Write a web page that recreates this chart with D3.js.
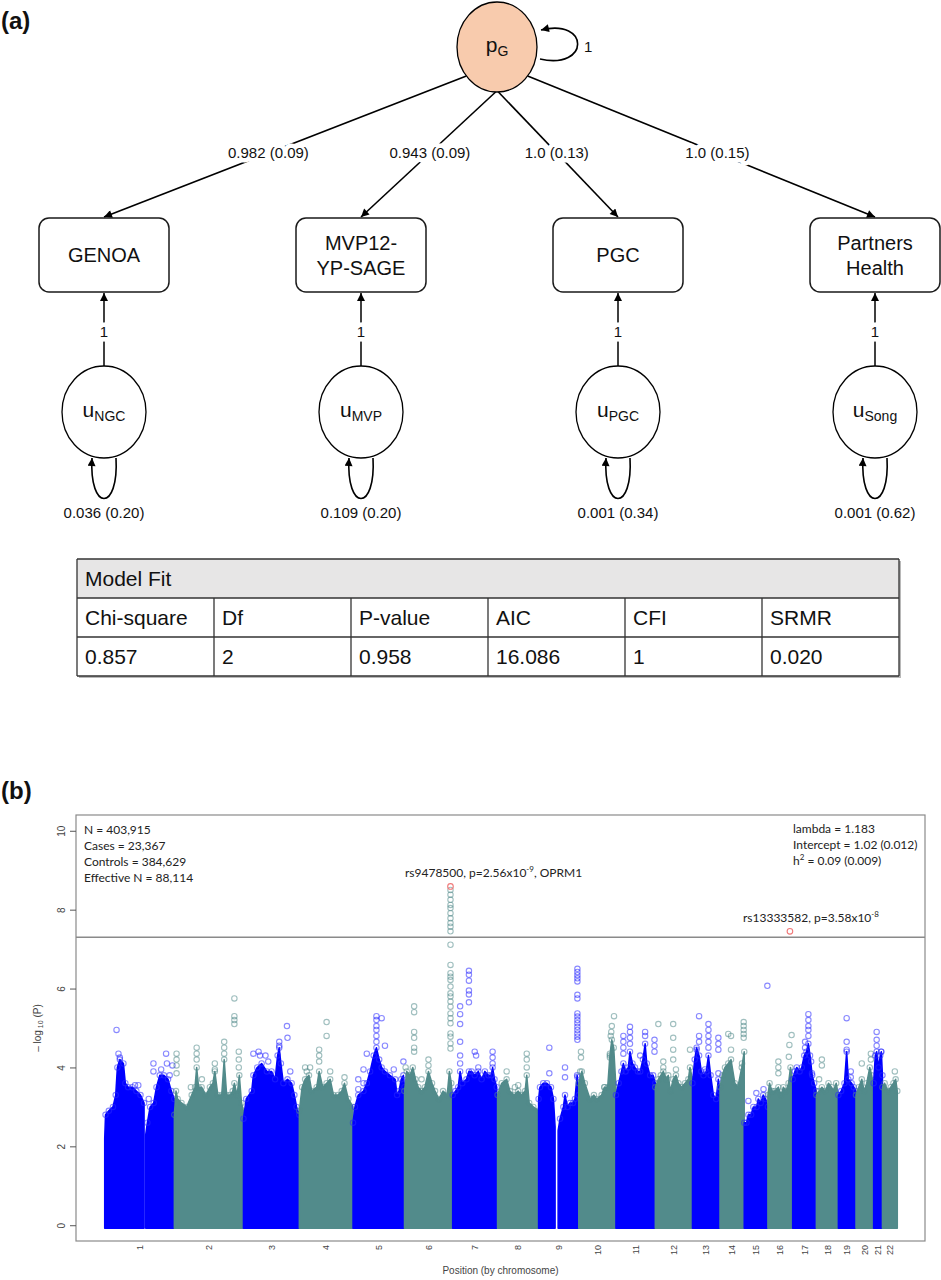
<!DOCTYPE html>
<html>
<head>
<meta charset="utf-8">
<script src="https://cdn.jsdelivr.net/npm/d3@7"></script>
<style>
  body { margin: 0; background: #fff; }
  svg text { font-family: "Liberation Sans", Arial, sans-serif; fill: #111; }
  svg text.cal { font-family: Lato, "Open Sans", sans-serif; fill: #222; }
  .halo { paint-order: stroke; stroke: #fff; stroke-width: 9px; stroke-linejoin: round; }
</style>
</head>
<body>
<svg id="figure" width="941" height="1280"></svg>
<script>
///////////////////////////////////////////////////////////
// Data (a): genomic SEM path model

const cohorts = ["GENOA", "MVP12-YP-SAGE", "PGC", "Partners Health"];
const cohortLines = [["GENOA"], ["MVP12-", "YP-SAGE"], ["PGC"], ["Partners", "Health"]];
const loadingLabels = ["0.982 (0.09)", "0.943 (0.09)", "1.0 (0.13)", "1.0 (0.15)"];
const residualNames = ["NGC", "MVP", "PGC", "Song"];
const residualLabels = ["0.036 (0.20)", "0.109 (0.20)", "0.001 (0.34)", "0.001 (0.62)"];
const fitHeaders = ["Chi-square", "Df", "P-value", "AIC", "CFI", "SRMR"];
const fitValues = ["0.857", "2", "0.958", "16.086", "1", "0.020"];

///////////////////////////////////////////////////////////
// Data (b): Manhattan plot

const chromosomes = ["1", "2", "3", "4", "5", "6", "7", "8", "9", "10", "11",
  "12", "13", "14", "15", "16", "17", "18", "19", "20", "21", "22"];
// span covered by SNPs, Mb
const chrLengthMb = [253, 251, 203, 195, 187, 175, 163, 149, 146, 135, 143,
  135, 100, 88, 86, 90, 86, 80, 64, 64, 32, 54];

// top of the dense SNP mass: [chr, position Mb, -log10 P] (null = gap)
const massProfile = [
  [1,0,2.2],[1,3,2.8],[1,15,2.9],[1,30,3.0],[1,40,3.3],[1,46,4.0],[1,55,4.2],[1,68,4.1],[1,75,3.6],[1,85,3.5],[1,100,3.5],[1,115,3.4],[1,130,3.3],[1,143,3.1],
  [1,146,null],
  [1,149,2.3],[1,155,2.6],[1,165,3.0],[1,178,3.1],[1,188,3.5],[1,200,3.8],[1,215,3.8],[1,230,3.7],[1,242,3.4],[1,253,3.2],
  [2,0,2.8],[2,6,3.4],[2,12,3.2],[2,26,3.1],[2,45,3.0],[2,63,3.3],[2,75,3.5],[2,81,4.0],[2,88,3.5],[2,99,3.5],[2,115,3.3],[2,129,3.5],[2,140,3.6],[2,147,3.9],[2,158,3.3],[2,172,3.3],[2,181,4.2],[2,190,3.3],[2,202,3.3],[2,212,3.4],[2,218,3.6],[2,228,3.3],[2,236,3.8],[2,244,3.1],[2,251,2.9],
  [3,0,2.7],[3,10,3.2],[3,30,3.4],[3,36,3.8],[3,50,4.0],[3,66,4.1],[3,85,3.9],[3,102,3.9],[3,115,3.7],[3,124,4.3],[3,130,4.5],[3,136,4.1],[3,145,3.6],[3,160,3.7],[3,175,3.6],[3,185,3.3],[3,193,3.0],[3,203,2.8],
  [4,0,2.9],[4,10,3.5],[4,21,3.7],[4,35,3.8],[4,45,3.4],[4,63,3.5],[4,72,3.9],[4,85,3.5],[4,99,3.6],[4,112,3.7],[4,124,3.3],[4,140,3.3],[4,154,3.4],[4,164,3.6],[4,178,3.2],[4,195,3.0],
  [5,0,2.6],[5,7,3.0],[5,19,3.3],[5,38,3.4],[5,50,3.6],[5,62,3.9],[5,75,4.3],[5,85,4.5],[5,95,4.2],[5,104,4.0],[5,116,3.9],[5,134,3.8],[5,153,3.7],[5,160,3.3],[5,167,3.4],[5,175,3.7],[5,183,3.8],[5,187,3.5],
  [6,0,3.4],[6,8,3.9],[6,20,3.8],[6,30,4.0],[6,40,3.7],[6,50,3.5],[6,62,3.4],[6,74,3.5],[6,87,3.9],[6,100,3.6],[6,111,3.4],[6,125,3.2],[6,140,3.4],[6,155,3.3],[6,163,3.9],[6,170,3.6],[6,175,3.2],
  [7,0,3.3],[7,10,3.4],[7,20,3.5],[7,27,3.9],[7,35,3.6],[7,50,3.7],[7,59,3.9],[7,69,3.9],[7,80,3.8],[7,93,3.9],[7,105,3.7],[7,117,3.9],[7,130,3.8],[7,140,3.8],[7,145,4.0],[7,152,3.7],[7,160,3.5],
  [8,0,3.3],[8,15,3.6],[8,33,3.7],[8,45,3.4],[8,60,3.3],[8,75,3.4],[8,87,3.3],[8,100,3.4],[8,106,3.8],[8,115,3.1],[8,130,3.0],[8,149,2.9],
  [9,0,3.2],[9,5,3.5],[9,17,3.6],[9,30,3.6],[9,45,3.5],[9,54,3.2],[9,60,2.5],[9,62,null],[9,71,2.4],[9,78,2.7],[9,90,3.0],[9,96,3.3],[9,105,3.0],[9,114,3.1],[9,125,3.1],[9,132,3.2],[9,140,3.8],[9,146,3.3],
  [10,0,3.6],[10,11,3.9],[10,22,3.6],[10,41,3.2],[10,55,3.3],[10,65,3.2],[10,83,3.3],[10,93,3.5],[10,105,3.5],[10,113,4.3],[10,120,4.7],[10,127,4.5],[10,135,3.5],
  [11,0,3.3],[11,10,3.6],[11,20,3.9],[11,27,4.1],[11,35,3.9],[11,45,4.0],[11,51,4.4],[11,60,4.1],[11,69,4.0],[11,80,3.9],[11,88,3.9],[11,98,4.2],[11,106,4.6],[11,112,4.1],[11,124,3.8],[11,135,3.8],[11,143,3.6],
  [12,0,3.5],[12,11,3.7],[12,20,3.8],[12,29,3.9],[12,40,3.7],[12,47,3.8],[12,55,3.4],[12,65,3.7],[12,75,3.8],[12,84,3.6],[12,95,3.5],[12,108,3.6],[12,120,3.7],[12,126,4.0],[12,135,3.7],
  [13,0,3.6],[13,8,4.2],[13,15,4.5],[13,24,4.3],[13,32,3.9],[13,40,3.8],[13,50,3.9],[13,58,4.3],[13,66,3.8],[13,76,3.3],[13,86,3.2],[13,94,3.7],[13,100,3.4],
  [14,0,3.5],[14,8,3.8],[14,18,4.0],[14,30,4.1],[14,40,4.2],[14,54,3.6],[14,65,3.5],[14,79,4.0],[14,88,4.4],
  [15,0,2.6],[15,8,2.6],[15,15,2.8],[15,25,2.8],[15,33,3.0],[15,45,3.0],[15,51,3.2],[15,60,3.1],[15,69,3.3],[15,78,3.2],[15,86,3.0],
  [16,0,3.3],[16,6,3.6],[16,15,3.4],[16,25,3.4],[16,38,3.5],[16,48,3.3],[16,56,3.5],[16,66,3.4],[16,75,3.6],[16,82,4.0],[16,90,3.7],
  [17,0,3.7],[17,8,3.9],[17,15,4.0],[17,25,3.9],[17,33,4.0],[17,42,4.3],[17,50,4.4],[17,57,4.6],[17,63,4.3],[17,71,3.8],[17,78,3.6],[17,86,3.4],
  [18,0,3.3],[18,10,3.4],[18,20,3.5],[18,32,3.4],[18,44,3.6],[18,55,3.5],[18,62,3.4],[18,72,3.6],[18,80,3.3],
  [19,0,3.3],[19,10,3.4],[19,22,3.6],[19,30,4.4],[19,36,3.7],[19,48,3.6],[19,56,3.5],[19,64,3.4],
  [20,0,3.3],[20,10,3.5],[20,21,3.7],[20,30,3.4],[20,39,3.6],[20,50,4.0],[20,57,3.8],[20,64,3.5],
  [21,0,3.6],[21,6,4.3],[21,11,4.4],[21,18,4.0],[21,24,4.3],[21,28,4.4],[21,32,3.8],
  [22,0,3.5],[22,8,3.6],[22,20,3.4],[22,30,3.5],[22,40,3.6],[22,48,3.7],[22,54,3.4]
];

// isolated SNPs above the mass: [chr, position Mb, -log10 P]
const peakSnps = [
  [1,43,4.95],[1,50,4.35],[1,55,4.25],[1,110,3.55],[1,122,3.55],[1,160,3.2],[1,177,4.1],[1,177,3.9],[1,205,3.95],[1,223,4.35],[1,226,4.1],[1,246,4.05],[1,236,3.8],
  [2,8,4.35],[2,8,4.2],[2,8,4.05],[2,8,3.85],[2,81,4.5],[2,81,4.35],[2,81,4.2],[2,147,4.1],[2,147,3.95],[2,181,4.65],[2,181,4.5],[2,181,4.35],[2,218,5.75],[2,218,5.3],[2,218,5.2],[2,218,5.1],[2,234,4.4],[2,234,4.2],[2,234,4.0],[2,60,3.5],[2,100,3.7],
  [3,36,4.35],[3,55,4.4],[3,60,4.3],[3,80,4.3],[3,90,4.15],[3,130,4.65],[3,130,4.55],[3,158,5.05],[3,160,4.75],[3,170,3.9],
  [4,21,4.0],[4,27,3.9],[4,39,4.0],[4,72,4.45],[4,72,4.3],[4,72,4.15],[4,99,5.15],[4,99,4.8],[4,112,3.9],[4,164,3.75],
  [5,19,3.7],[5,19,3.45],[5,38,3.95],[5,38,3.6],[5,50,4.35],[5,85,5.3],[5,85,5.2],[5,85,5.05],[5,85,4.95],[5,85,4.8],[5,85,4.65],[5,104,5.25],[5,116,4.55],[5,148,3.95],[5,183,4.15],
  [6,4,4.0],[6,35,5.55],[6,35,5.4],[6,35,4.9],[6,35,4.75],[6,35,4.5],[6,35,4.4],[6,62,3.7],[6,87,4.2],[6,87,4.05],
  [6,167,8.5],[6,167,8.38],[6,167,8.25],[6,167,8.12],[6,167,8.04],[6,167,7.91],[6,167,7.78],[6,167,7.66],[6,167,7.57],[6,167,7.45],[6,167,7.11],[6,167,6.6],[6,167,6.39],[6,167,6.3],[6,167,6.22],[6,167,6.05],[6,167,5.88],[6,167,5.8],[6,167,5.67],[6,167,5.54],[6,167,5.37],[6,167,5.25],[6,167,5.12],[6,167,4.86],[6,167,4.78],[6,167,4.61],[6,167,4.48],
  [7,27,5.55],[7,27,5.35],[7,27,5.1],[7,27,4.65],[7,27,4.3],[7,27,4.1],[7,59,6.45],[7,59,6.35],[7,59,6.2],[7,59,5.95],[7,59,5.85],[7,59,5.65],[7,80,4.4],[7,85,4.3],[7,93,4.0],[7,145,4.4],[7,145,4.25],[7,145,4.1],
  [8,33,3.9],[8,63,3.5],[8,75,3.55],[8,106,4.35],[8,106,4.2],[8,106,4.0],
  [9,39,4.5],[9,39,3.85],[9,96,4.0],[9,96,3.75],
  [9,141,6.5],[9,141,6.42],[9,141,6.34],[9,141,6.26],[9,141,6.18],[9,141,5.84],[9,141,5.75],[9,141,5.37],[9,141,5.29],[9,141,5.2],[9,141,5.12],[9,141,5.03],[9,141,4.95],[9,141,4.86],[9,141,4.78],[9,141,4.7],[9,141,3.76],
  [10,8,4.4],[10,8,4.25],[10,5,3.9],[10,93,3.5],[10,128,5.3],[10,120,5.05],[10,118,4.9],[10,116,4.8],[10,113,4.35],[10,113,4.25],
  [11,27,4.8],[11,27,4.65],[11,27,4.5],[11,27,4.35],[11,51,5.03],[11,51,4.9],[11,51,4.75],[11,51,4.6],[11,88,4.3],[11,106,4.9],[11,106,4.8],[11,140,4.7],[11,140,4.55],[11,140,4.4],
  [12,11,5.1],[12,29,4.15],[12,29,4.0],[12,65,5.1],[12,65,4.75],[12,65,4.45],[12,65,4.2],[12,75,3.95],[12,126,4.45],
  [13,15,4.45],[13,24,5.3],[13,24,4.8],[13,24,4.65],[13,45,3.95],[13,58,5.1],[13,58,4.95],[13,58,4.8],[13,58,4.65],[13,58,4.5],[13,94,4.75],[13,94,4.6],[13,94,4.45],[13,94,3.85],
  [14,30,4.85],[14,40,4.8],[14,40,4.45],[14,80,4.1],[14,86,5.15],[14,86,5.05],[14,86,4.95],[14,86,4.85],[14,86,4.75],
  [15,15,3.15],[15,44,3.35],[15,70,3.45],[15,84,6.07],
  [16,38,4.15],[16,38,4.0],[16,38,3.85],[16,78,4.57],[16,76,4.27],[16,86,4.82],
  [17,45,4.65],[17,45,4.5],[17,57,5.35],[17,57,5.2],[17,57,5.05],[17,57,4.95],[17,57,4.8],[17,67,4.15],[17,70,3.85],
  [18,20,4.2],[18,20,4.05],[18,10,3.7],
  [19,30,5.25],[19,30,4.65],[19,30,4.45],[19,45,3.9],[19,45,3.75],
  [20,21,4.1],[20,54,4.35],[20,54,4.2],
  [21,11,4.9],[21,11,4.7],[21,11,4.55],[21,27,4.4],
  [22,45,3.9]
];

// genome-wide significant lead SNPs
const leadSnps = [
  { chr: 6, pos: 167, logp: 8.59, rs: "rs9478500", p: "2.56x10", exp: "-9", gene: ", OPRM1" },
  { chr: 16, pos: 80, logp: 7.45, rs: "rs13333582", p: "3.58x10", exp: "-8", gene: "" }
];

const yTicks = [0, 2, 4, 6, 8, 10];
const gwsThreshold = 7.3;
const sampleInfo = ["N = 403,915", "Cases = 23,367", "Controls = 384,629", "Effective N = 88,114"];
const ldscInfo = ["lambda = 1.183", "Intercept = 1.02 (0.012)", " = 0.09 (0.009)"];

///////////////////////////////////////////////////////////
// Shared svg bits

const svg = d3.select("#figure");
const defs = svg.append("defs");
defs.append("marker")
  .attr("id", "arrow")
  .attr("viewBox", "0 0 10 10")
  .attr("refX", 10).attr("refY", 5)
  .attr("markerWidth", 10).attr("markerHeight", 8)
  .attr("markerUnits", "userSpaceOnUse")
  .attr("orient", "auto")
  .append("path").attr("d", "M0,0L10,5L0,10z").attr("fill", "#000");

///////////////////////////////////////////////////////////
// Panel (a)

svg.append("text").attr("x", 1).attr("y", 29)
  .attr("font-size", 24).attr("font-weight", "bold").text("(a)");

const xa = d3.scalePoint().domain(cohorts).range([104, 875]);
const pG = { cx: 497, cy: 47, rx: 40, ry: 45 };
const boxTop = 218, boxH = 74, boxW = 130;
const uCy = 412, uRx = 42, uRy = 46;

// loadings from pG to each cohort
const startAngles = [140, 92, 88, 40];
cohorts.forEach(function (c, i) {
  const a = startAngles[i] * Math.PI / 180;
  const sx = pG.cx + pG.rx * Math.cos(a), sy = pG.cy + pG.ry * Math.sin(a);
  const ex = xa(c), ey = boxTop - 1;
  svg.append("line")
    .attr("x1", sx).attr("y1", sy).attr("x2", ex).attr("y2", ey)
    .attr("stroke", "#000").attr("stroke-width", 1.6)
    .attr("marker-end", "url(#arrow)");
  const t = (153 - sy) / (ey - sy);
  svg.append("text").attr("class", "halo")
    .attr("x", sx + t * (ex - sx)).attr("y", 158)
    .attr("text-anchor", "middle").attr("font-size", 15)
    .text(loadingLabels[i]);
});

// pG node and its variance
svg.append("path")
  .attr("d", "M540,59 C590,70 590,18 541,30")
  .attr("fill", "none").attr("stroke", "#000").attr("stroke-width", 1.6)
  .attr("marker-end", "url(#arrow)");
svg.append("text").attr("x", 584).attr("y", 52).attr("font-size", 15).text("1");
svg.append("ellipse")
  .attr("cx", pG.cx).attr("cy", pG.cy).attr("rx", pG.rx).attr("ry", pG.ry)
  .attr("fill", "#F8CBAD").attr("stroke", "#000").attr("stroke-width", 1.3);
const pgLabel = svg.append("text").attr("x", pG.cx).attr("y", 52)
  .attr("text-anchor", "middle").attr("font-size", 21);
pgLabel.append("tspan").text("p");
pgLabel.append("tspan").attr("font-size", 14).attr("dy", 4).text("G");

// cohort boxes, residual nodes, residual variances
cohorts.forEach(function (c, i) {
  const cx = xa(c);
  svg.append("rect")
    .attr("x", cx - boxW / 2).attr("y", boxTop).attr("width", boxW).attr("height", boxH)
    .attr("rx", 10).attr("fill", "#fff").attr("stroke", "#1a1a1a").attr("stroke-width", 1.5);
  const lines = cohortLines[i];
  lines.forEach(function (l, j) {
    const base = lines.length === 1 ? 262 : 250 + j * 25;
    svg.append("text").attr("x", cx).attr("y", base)
      .attr("text-anchor", "middle").attr("font-size", 20).text(l);
  });

  svg.append("line")
    .attr("x1", cx).attr("y1", uCy - uRy).attr("x2", cx).attr("y2", boxTop + boxH + 1)
    .attr("stroke", "#000").attr("stroke-width", 1.5)
    .attr("marker-end", "url(#arrow)");
  svg.append("text").attr("class", "halo")
    .attr("x", cx).attr("y", 337).attr("text-anchor", "middle").attr("font-size", 15).text("1");

  svg.append("ellipse")
    .attr("cx", cx).attr("cy", uCy).attr("rx", uRx).attr("ry", uRy)
    .attr("fill", "#fff").attr("stroke", "#000").attr("stroke-width", 1.3);
  const ul = svg.append("text").attr("x", cx).attr("y", 417)
    .attr("text-anchor", "middle").attr("font-size", 21);
  ul.append("tspan").text("u");
  ul.append("tspan").attr("font-size", 14).attr("dy", 4).text(residualNames[i]);

  svg.append("path")
    .attr("d", `M${cx + 12},${uCy + uRy} C${cx + 15},${uCy + 100} ${cx - 15},${uCy + 100} ${cx - 12},${uCy + uRy}`)
    .attr("fill", "none").attr("stroke", "#000").attr("stroke-width", 1.6)
    .attr("marker-end", "url(#arrow)");
  svg.append("text").attr("x", cx).attr("y", 518)
    .attr("text-anchor", "middle").attr("font-size", 15).text(residualLabels[i]);
});

// model fit table
const tX0 = 77, tX1 = 899, rowY = [559, 598, 637, 676];
const colW = (tX1 - tX0) / fitHeaders.length;
const tbl = svg.append("g");
tbl.append("rect").attr("x", tX0 + 2).attr("y", rowY[0] + 2)
  .attr("width", tX1 - tX0).attr("height", rowY[3] - rowY[0]).attr("fill", "#b8b8b8");
tbl.append("rect").attr("x", tX0).attr("y", rowY[0])
  .attr("width", tX1 - tX0).attr("height", rowY[3] - rowY[0]).attr("fill", "#fff");
tbl.append("rect").attr("x", tX0).attr("y", rowY[0])
  .attr("width", tX1 - tX0).attr("height", rowY[1] - rowY[0]).attr("fill", "#E7E6E6");
tbl.append("text").attr("x", tX0 + 8).attr("y", rowY[0] + 27).attr("font-size", 21).text("Model Fit");
[fitHeaders, fitValues].forEach(function (row, r) {
  row.forEach(function (v, k) {
    tbl.append("text").attr("x", tX0 + k * colW + 8).attr("y", rowY[r + 1] + 27)
      .attr("font-size", 21).text(v);
  });
});
tbl.selectAll("line.h").data(rowY).enter().append("line")
  .attr("x1", tX0).attr("x2", tX1).attr("y1", d => d).attr("y2", d => d)
  .attr("stroke", "#333").attr("stroke-width", 1.3);
tbl.selectAll("line.v").data(d3.range(fitHeaders.length + 1)).enter().append("line")
  .attr("x1", k => tX0 + k * colW).attr("x2", k => tX0 + k * colW)
  .attr("y1", k => (k === 0 || k === fitHeaders.length) ? rowY[0] : rowY[1]).attr("y2", rowY[3])
  .attr("stroke", "#333").attr("stroke-width", 1.3);

///////////////////////////////////////////////////////////
// Panel (b): Manhattan plot

svg.append("text").attr("x", 1).attr("y", 799)
  .attr("font-size", 24).attr("font-weight", "bold").text("(b)");

const box = { x0: 76, x1: 925, y0: 815, y1: 1241 };
const chrStart = d3.cumsum([0].concat(chrLengthMb));
const x = d3.scaleLinear().domain([0, d3.sum(chrLengthMb)]).range([104.7, 897.3]);
const y = d3.scaleLinear().domain([-0.4, 10.4]).range([box.y1, box.y0]);
const gx = (chr, pos) => x(chrStart[chr - 1] + pos);

const massColour = i => (i % 2 === 0 ? "#0000FF" : "#528B8B");
const ringColour = i => (i % 2 === 0 ? "rgba(40,40,255,0.55)" : "rgba(82,139,139,0.55)");

const plot = svg.append("g");
const area = d3.area()
  .defined(d => d[2] !== null)
  .x(d => gx(d[0], d[1]))
  .y0(y(0) + 3)
  .y1(d => y(d[2]));

chromosomes.forEach(function (c, i) {
  const rows = massProfile.filter(d => d[0] === i + 1);
  plot.append("path").datum(rows).attr("d", area)
    .attr("fill", massColour(i)).attr("stroke", massColour(i))
    .attr("stroke-width", 1.5).attr("stroke-linejoin", "round");
  const pts = rows.filter(d => d[2] !== null && d[2] > 2.5)
    .concat(peakSnps.filter(d => d[0] === i + 1));
  plot.selectAll(null).data(pts).enter().append("circle")
    .attr("cx", d => gx(d[0], d[1])).attr("cy", d => y(d[2])).attr("r", 2.7)
    .attr("fill", "none").attr("stroke", ringColour(i)).attr("stroke-width", 1.1);
});

plot.selectAll(null).data(leadSnps).enter().append("circle")
  .attr("cx", d => gx(d.chr, d.pos)).attr("cy", d => y(d.logp)).attr("r", 2.8)
  .attr("fill", "none").attr("stroke", "#F07878").attr("stroke-width", 1.1);

// frame and significance line
svg.append("rect").attr("x", box.x0).attr("y", box.y0)
  .attr("width", box.x1 - box.x0).attr("height", box.y1 - box.y0)
  .attr("fill", "none").attr("stroke", "#8a8a8a").attr("stroke-width", 1.2);
svg.append("line").attr("x1", box.x0).attr("x2", box.x1)
  .attr("y1", y(gwsThreshold)).attr("y2", y(gwsThreshold))
  .attr("stroke", "#8a8a8a").attr("stroke-width", 1.4);

// y axis
const gy = svg.append("g").attr("transform", `translate(${box.x0},0)`)
  .call(d3.axisLeft(y).tickValues(yTicks).tickSize(6).tickFormat(d3.format("d")));
gy.select(".domain").remove();
gy.selectAll("line").attr("stroke", "#555");
gy.selectAll("text")
  .attr("transform", "rotate(-90)").attr("x", 0).attr("y", -11).attr("dy", 0)
  .attr("text-anchor", "middle").attr("font-size", 10)
  .style("font-family", "Liberation Sans, Arial, sans-serif").style("fill", "#444");

const ylab = svg.append("text")
  .attr("transform", `translate(41,${(box.y0 + box.y1) / 2}) rotate(-90)`)
  .attr("text-anchor", "middle").attr("font-size", 10).style("fill", "#444");
ylab.append("tspan").text("\u2013 log");
ylab.append("tspan").attr("font-size", 7).attr("dy", 2).text(" 10");
ylab.append("tspan").attr("dy", -2).text(" (P)");

// chromosome labels
svg.selectAll(null).data(chromosomes).enter().append("text")
  .attr("transform", (d, i) => `translate(${x(chrStart[i] + chrLengthMb[i] / 2)},1245) rotate(-90)`)
  .attr("text-anchor", "end").attr("dy", "0.35em").attr("font-size", 9)
  .style("fill", "#444").text(d => d);

svg.append("text").attr("x", (box.x0 + box.x1) / 2).attr("y", 1274)
  .attr("text-anchor", "middle").attr("font-size", 10).style("fill", "#444")
  .text("Position (by chromosome)");

// annotations
sampleInfo.forEach(function (s, k) {
  svg.append("text").attr("class", "cal").attr("x", 84).attr("y", 834 + k * 16)
    .attr("font-size", 12).text(s);
});
ldscInfo.forEach(function (s, k) {
  const t = svg.append("text").attr("class", "cal").attr("x", 793).attr("y", 833 + k * 16)
    .attr("font-size", 12);
  if (k === 2) {
    t.append("tspan").text("h");
    t.append("tspan").attr("font-size", 8).attr("dy", -5).text("2");
    t.append("tspan").attr("dy", 5).text(s);
  } else {
    t.text(s);
  }
});

const leadLabelPos = [[405, 877], [743, 922]];
leadSnps.forEach(function (d, k) {
  const t = svg.append("text").attr("class", "cal")
    .attr("x", leadLabelPos[k][0]).attr("y", leadLabelPos[k][1]).attr("font-size", 12);
  t.append("tspan").text(d.rs + ", p=" + d.p);
  t.append("tspan").attr("font-size", 8).attr("dy", -5).text(d.exp);
  t.append("tspan").attr("dy", 5).text(d.gene);
});
</script>
</body>
</html>
